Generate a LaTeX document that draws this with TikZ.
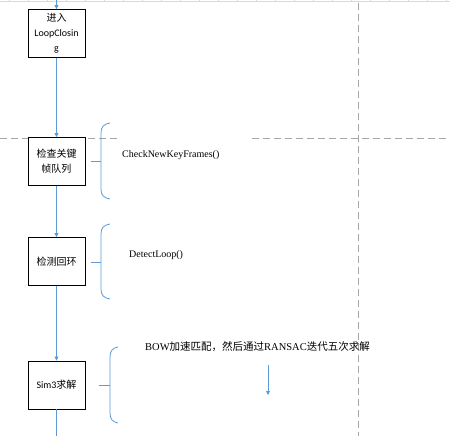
\documentclass[tikz,border=0pt]{standalone}
\usepackage{fontspec}
\setmainfont{Liberation Serif}
\setsansfont{Carlito}
\newfontfamily\cjk{Noto Sans CJK SC}
\usetikzlibrary{arrows.meta}
\definecolor{flowblue}{HTML}{5B9BD5}
\definecolor{guidegray}{HTML}{A6A6A6}
\definecolor{rulergray}{HTML}{D9D9D9}
\tikzset{
  stepbox/.style={draw=black, line width=0.9pt, fill=white, minimum width=57pt, minimum height=48pt,
    inner sep=1pt, align=center, font=\fontsize{10}{15}\selectfont\sffamily},
  flow/.style={draw=flowblue, line width=0.8pt},
  flowarrow/.style={flow, -{Triangle[length=4pt,width=4pt]}},
  guide/.style={draw=guidegray, line width=0.8pt, dash pattern=on 7pt off 4pt},
  bracket/.style={draw=flowblue, line width=0.8pt},
  note/.style={anchor=west, inner sep=0pt, font=\fontsize{10}{12}\selectfont},
}
\begin{document}
\begin{tikzpicture}[x=1pt,y=-1pt]
\useasboundingbox (0,0) rectangle (450,436);
\fill[white] (0,0) rectangle (450,436);
% ruler line at top
\draw[rulergray, line width=0.8pt] (0,1.5) -- (450,1.5);
\foreach \i in {0,...,23} { \draw[rulergray, line width=0.6pt] (9.5+19*\i,0) -- (9.5+19*\i,1.5); }
% guide lines
\draw[guide] (358,3) -- (358,436);
\draw[guide] (0,138) -- (118,138);
\draw[guide] (252,138) -- (450,138);
% boxes
\node[stepbox] (b1) at (56.5,33.5) {{\cjk 进入}\\LoopClosin\\g};
\node[stepbox] (b2) at (56.5,161.5) {\cjk 检查关键\\\cjk 帧队列};
\node[stepbox] (b3) at (56.5,261.5) {\cjk 检测回环};
\node[stepbox] (b4) at (56.5,385) {Sim3{\cjk 求解}};
\coordinate (top) at (56.5,0);
\coordinate (bottom) at (56.5,436);
% connectors
\draw[flowarrow] (top) -- (b1.north);
\draw[flowarrow] (b1) -- (b2);
\draw[flowarrow] (b2) -- (b3);
\draw[flowarrow] (b3) -- (b4);
\draw[flow] (b4) -- (bottom);
% brackets
\draw[bracket] (110,123) .. controls (103.5,124) and (101,127) .. (101,133) -- (101,189) .. controls (101,195) and (103.5,198) .. (110,199);
\draw[bracket] (91,161) -- (101,161);
\draw[bracket] (110,224) .. controls (103.5,225) and (101,228) .. (101,234) -- (101,289) .. controls (101,295) and (103.5,298) .. (110,299);
\draw[bracket] (91,262) -- (101,262);
\draw[bracket] (118,347) .. controls (112.5,348) and (110,351) .. (110,357) -- (110,413) .. controls (110,419) and (112.5,422) .. (118,423);
\draw[bracket] (99,385) -- (110,385);
% notes
\node[note] (n2) at (122,155) {CheckNewKeyFrames()};
\node[note] (n3) at (129,255) {DetectLoop()};
\node[note, font=\fontsize{10.5}{12}\selectfont] (n4) at (145,347) {BOW{\cjk 加速匹配，然后通过}RANSAC{\cjk 迭代五次求解}};
\coordinate (s1) at (268,365);
\coordinate (s2) at (268,395);
\draw[flowarrow] (s1) -- (s2);
\end{tikzpicture}
\end{document}
